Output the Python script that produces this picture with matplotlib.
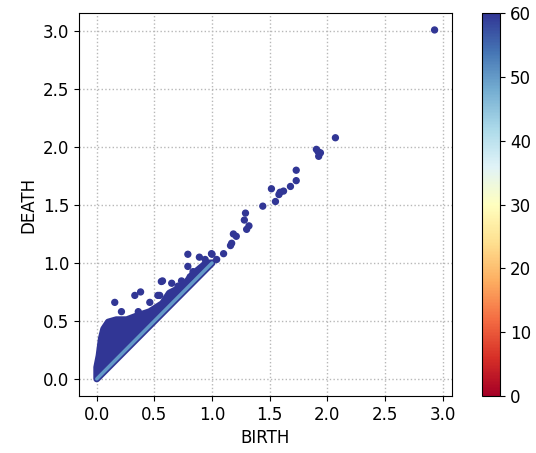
import numpy as np
import matplotlib
matplotlib.use('Agg')
import matplotlib.pyplot as plt
from matplotlib import cm, colors

# isolated persistence pairs (birth, death)
birth = [2.93, 2.07, 1.905, 1.92, 1.94, 1.925, 1.73, 1.73, 1.68, 1.62, 1.59, 1.58,
         1.515, 1.55, 1.44, 1.29, 1.28, 1.32, 1.30, 1.185, 1.21, 1.17, 1.16, 1.10,
         1.00, 0.94, 0.89, 0.79, 0.995, 1.04, 0.79, 0.835, 0.81, 0.57, 0.65, 0.735,
         0.53, 0.156, 0.33, 0.38, 0.56, 0.46, 0.546, 0.63, 0.705, 0.214, 0.36]
death = [3.01, 2.08, 1.98, 1.96, 1.95, 1.92, 1.80, 1.71, 1.66, 1.62, 1.61, 1.59,
         1.64, 1.53, 1.49, 1.43, 1.37, 1.32, 1.29, 1.25, 1.23, 1.17, 1.15, 1.08,
         1.075, 1.03, 1.05, 1.075, 1.08, 1.03, 0.97, 0.925, 0.88, 0.845, 0.825, 0.845,
         0.72, 0.66, 0.72, 0.75, 0.84, 0.66, 0.72, 0.72, 0.80, 0.58, 0.58]
count = [60] * len(birth)

# upper envelope of the dense cloud of pairs near the diagonal
cloud_birth = [0.0, 0.0, 0.02, 0.04, 0.06, 0.10, 0.17, 0.26, 0.34, 0.46, 0.57, 0.63, 0.75, 0.83, 0.95, 1.0]
cloud_death = [0.0, 0.10, 0.20, 0.35, 0.43, 0.49, 0.51, 0.51, 0.54, 0.58, 0.65, 0.74, 0.80, 0.90, 1.0, 1.0]

diag = [0.0, 1.0]

cmap = plt.get_cmap('RdYlBu')
norm = colors.Normalize(vmin=0, vmax=60)
dark = cmap(norm(60))

fig = plt.figure(figsize=(5.36, 4.53), dpi=100)
ax = fig.add_axes([0.147, 0.126, 0.696, 0.845])
cax = fig.add_axes([0.899, 0.126, 0.034, 0.845])

# cloud drawn as a filled region between diagonal and upper envelope
poly_x = cloud_birth + cloud_birth[::-1][1:]
poly_y = cloud_death + cloud_birth[::-1][1:]
ax.fill(poly_x, poly_y, color=dark, lw=5, joinstyle='round', zorder=2)
ax.plot(diag, diag, color=cmap(norm(50)), lw=2.5, solid_capstyle='round', zorder=3)
ax.scatter(birth, death, c=count, cmap=cmap, norm=norm, s=18, zorder=4)

ax.set_xticks([0.0, 0.5, 1.0, 1.5, 2.0, 2.5, 3.0])
ax.set_yticks([0.0, 0.5, 1.0, 1.5, 2.0, 2.5, 3.0])
ax.set_xlim(-0.156, 3.08)
ax.set_ylim(-0.147, 3.155)
ax.grid(True, linestyle=':', color='#b8b8b8', lw=1)
ax.set_axisbelow(True)
ax.tick_params(labelsize=12)
ax.set_xlabel('BIRTH', fontsize=12)
ax.set_ylabel('DEATH', fontsize=12)

cb = fig.colorbar(cm.ScalarMappable(norm=norm, cmap=cmap), cax=cax)
cb.set_ticks([0, 10, 20, 30, 40, 50, 60])
cb.ax.tick_params(labelsize=12)

fig.savefig('out.png', dpi=100)
